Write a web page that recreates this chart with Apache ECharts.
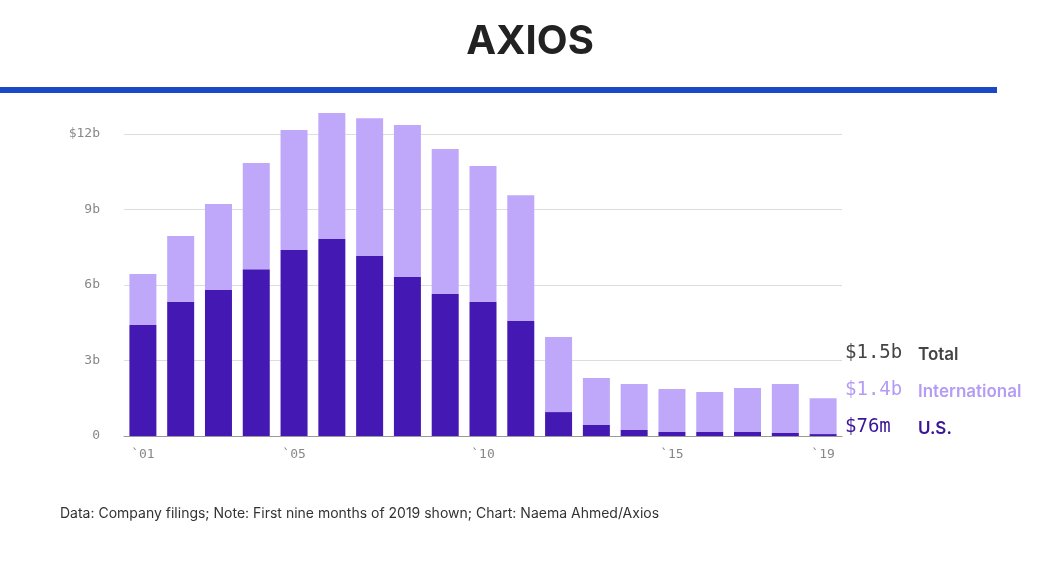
<!DOCTYPE html>
<html><head><meta charset="utf-8">
<script src="https://cdn.jsdelivr.net/npm/echarts@6/dist/echarts.min.js"></script>
<style>html,body{margin:0;background:#fff}#c{width:1060px;height:577px}</style>
</head><body><div id="c"></div>
<script>
var years = ['2001','2002','2003','2004','2005','2006','2007','2008','2009','2010','2011','2012','2013','2014','2015','2016','2017','2018','2019'];
var totals = [6.44,7.95,9.22,10.85,12.16,12.83,12.63,12.36,11.4,10.73,9.57,3.93,2.3,2.07,1.87,1.75,1.91,2.07,1.5];
var usValues = [4.41,5.32,5.8,6.63,7.39,7.83,7.15,6.32,5.64,5.32,4.57,0.95,0.44,0.24,0.16,0.16,0.16,0.12,0.076];
var intlValues = totals.map(function (t, i) { return +(t - usValues[i]).toFixed(3); });
var shownYears = ['2001','2005','2010','2015','2019'];

var chart = echarts.init(document.getElementById('c'));
var mono = 'DejaVu Sans Mono';
chart.setOption({
  animation: false,
  grid: { left: 124, right: 218, top: 134, bottom: 141 },
  xAxis: {
    type: 'category', data: years,
    axisLine: { lineStyle: { color: '#999' } },
    axisTick: { alignWithLabel: true, length: 5, lineStyle: { color: '#999' },
      interval: function (i, v) { return shownYears.indexOf(v) >= 0; } },
    axisLabel: { interval: 0, color: '#888', fontFamily: mono, fontSize: 13, margin: 12,
      formatter: function (v) { return shownYears.indexOf(v) >= 0 ? '`' + v.slice(2) : ''; } }
  },
  yAxis: {
    type: 'value', min: 0, max: 12, interval: 3,
    axisLabel: { color: '#888', fontFamily: mono, fontSize: 13, margin: 24,
      formatter: function (v) { return v === 0 ? '0' : (v === 12 ? '$12b' : v + 'b'); } },
    splitLine: { lineStyle: { color: '#ddd' } }
  },
  series: [
    { type: 'bar', stack: 't', data: usValues, barWidth: 27, clip: false,
      itemStyle: { color: '#4419b3' } },
    { type: 'bar', stack: 't', data: intlValues, barWidth: 27, clip: false,
      itemStyle: { color: '#bfa8fa' } }
  ],
  graphic: [
    { type: 'text', left: 'center', top: 22, style: { text: 'AXIOS', font: 'bold 40px Inter', fill: '#222' } },
    { type: 'rect', shape: { x: 0, y: 87, width: 997, height: 6 }, style: { fill: '#1b48c4' } },
    { type: 'text', left: 845, top: 344, style: { text: '$1.5b', font: '19px "DejaVu Sans Mono"', fill: '#444' } },
    { type: 'text', left: 918, top: 346, style: { text: 'Total', font: '600 17px Inter', fill: '#444' } },
    { type: 'text', left: 845, top: 381, style: { text: '$1.4b', font: '19px "DejaVu Sans Mono"', fill: '#b49cf5' } },
    { type: 'text', left: 918, top: 383, style: { text: 'International', font: '600 17px Inter', fill: '#b49cf5' } },
    { type: 'text', left: 845, top: 418, style: { text: '$76m', font: '19px "DejaVu Sans Mono"', fill: '#3a1599' } },
    { type: 'text', left: 918, top: 420, style: { text: 'U.S.', font: '600 17px Inter', fill: '#3a1599' } },
    { type: 'text', left: 60, top: 507, style: { text: 'Data: Company filings; Note: First nine months of 2019 shown; Chart: Naema Ahmed/Axios', font: '14px Inter', fill: '#333' } }
  ]
});
</script></body></html>
